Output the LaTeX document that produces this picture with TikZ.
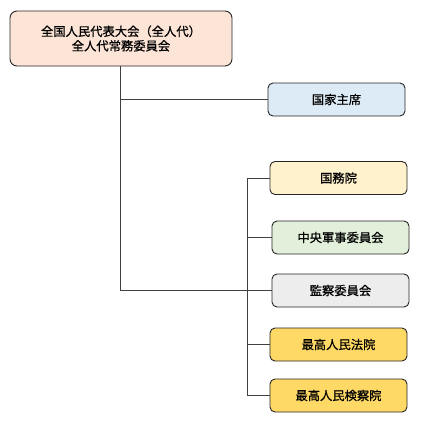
\documentclass[tikz,border=0pt]{standalone}
\usepackage{fontspec}
\setmainfont{Noto Sans CJK JP}[FakeBold=0.8]
\usepackage{xcolor}
\usetikzlibrary{positioning,calc}
\definecolor{peach}{HTML}{FCE4D6}
\definecolor{paleblue}{HTML}{DDEBF7}
\definecolor{cream}{HTML}{FFF2CC}
\definecolor{palegreen}{HTML}{E2EFDA}
\definecolor{palegray}{HTML}{EDEDED}
\definecolor{gold}{HTML}{FFD966}
\definecolor{edge}{HTML}{262626}
\definecolor{wire}{HTML}{404040}

\begin{document}
\begin{tikzpicture}[x=1pt, y=-1pt,
    organ/.style={rectangle, draw=edge, line width=0.9pt, rounded corners=5pt, align=center, font=\fontsize{12.3}{14.5}\selectfont, minimum width=137pt, minimum height=33pt, inner sep=0pt},
    link/.style={draw=wire, line width=0.9pt}]
    \useasboundingbox (0,0) rectangle (432,421);

    \node[organ, fill=peach, minimum width=222pt, minimum height=55pt, rounded corners=7pt] (npc) at (121,38.5) {全国人民代表大会（全人代）\\全人代常務委員会};
    \node[organ, fill=paleblue] (shuseki) at (336.5,99.5) {国家主席};

    \node[organ, fill=cream] (kokumu) at (338.5,178) {国務院};
    \node[organ, fill=palegreen] (gunji) at (340.5,237.5) {中央軍事委員会};
    \node[organ, fill=palegray] (kansatsu) at (340.5,290.5) {監察委員会};
    \node[organ, fill=gold] (hoin) at (338.5,344.5) {最高人民法院};
    \node[organ, fill=gold] (kensatsu) at (338.5,395.5) {最高人民検察院};

    \coordinate (bus) at (247,0);
    \coordinate (trunk) at (120,0);

    \draw[link] (npc.south -| trunk) -- (kansatsu.west -| trunk) -- (kansatsu.west);
    \draw[link] (shuseki.west -| trunk) -- (shuseki.west);
    \draw[link] (kokumu.west) -- (kokumu.west -| bus) -- (kensatsu.west -| bus) -- (kensatsu.west);
    \draw[link] (gunji.west -| bus) -- (gunji.west);
    \draw[link] (hoin.west -| bus) -- (hoin.west);
\end{tikzpicture}
\end{document}
